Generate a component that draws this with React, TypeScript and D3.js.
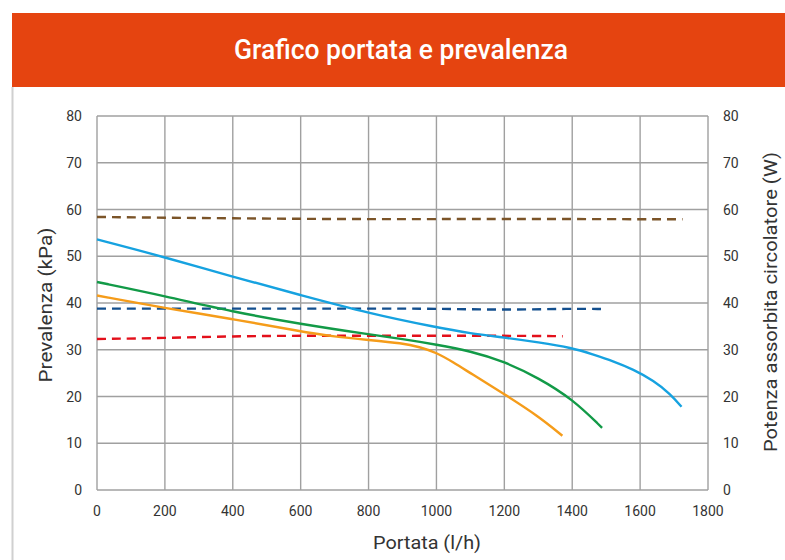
import React from "react";
import * as d3 from "d3";

const W = 785;
const H = 560;

const xTicks = [0, 200, 400, 600, 800, 1000, 1200, 1400, 1600, 1800];
const yTicks = [0, 10, 20, 30, 40, 50, 60, 70, 80];

const title = "Grafico portata e prevalenza";
const xTitle = "Portata (l/h)";
const yTitleLeft = "Prevalenza (kPa)";
const yTitleRight = "Potenza assorbita circolatore (W)";

// Prevalenza curves (solid)
const blueFlow = [0, 200, 400, 600, 800, 1000, 1100, 1200, 1300, 1400, 1460, 1520, 1580, 1640, 1690, 1722];
const blueHead = [53.6, 49.8, 45.6, 41.7, 37.8, 34.8, 33.5, 32.6, 31.6, 30.4, 29.0, 27.6, 25.8, 23.4, 20.5, 17.8];

const greenFlow = [0, 200, 400, 600, 800, 900, 1000, 1100, 1200, 1300, 1400, 1488];
const greenHead = [44.5, 41.5, 38.1, 35.5, 33.3, 32.3, 31.1, 29.7, 27.5, 24.0, 19.5, 13.3];

const orangeFlow = [0, 200, 400, 600, 700, 800, 900, 950, 1000, 1050, 1100, 1200, 1300, 1371];
const orangeHead = [41.6, 38.9, 36.6, 33.9, 32.8, 32.1, 31.4, 30.6, 29.4, 27.3, 25.0, 20.5, 15.8, 11.6];

// Potenza curves (dashed)
const brownFlow = [0, 400, 800, 1200, 1725];
const brownPower = [58.4, 58.1, 57.9, 58.0, 57.9];

const navyFlow = [0, 400, 800, 1000, 1200, 1400, 1490];
const navyPower = [38.8, 38.8, 38.8, 38.8, 38.5, 38.8, 38.7];

const redFlow = [0, 200, 400, 600, 800, 1000, 1200, 1372];
const redPower = [32.3, 32.5, 32.9, 33.0, 33.0, 33.0, 33.0, 32.9];

const plot = { left: 97, right: 708, top: 116, bottom: 490 };

const x = d3.scaleLinear().domain([0, 1800]).range([plot.left, plot.right]);
const yL = d3.scaleLinear().domain([0, 80]).range([plot.bottom, plot.top]);
const yR = d3.scaleLinear().domain([0, 80]).range([plot.bottom, plot.top]);

type Series = { flow: number[]; vals: number[]; color: string; dashed: boolean; axis: "L" | "R" };

const series: Series[] = [
  { flow: brownFlow, vals: brownPower, color: "#7b5428", dashed: true, axis: "R" },
  { flow: navyFlow, vals: navyPower, color: "#134f8e", dashed: true, axis: "R" },
  { flow: redFlow, vals: redPower, color: "#e3101b", dashed: true, axis: "R" },
  { flow: blueFlow, vals: blueHead, color: "#16a2e0", dashed: false, axis: "L" },
  { flow: greenFlow, vals: greenHead, color: "#129a47", dashed: false, axis: "L" },
  { flow: orangeFlow, vals: orangeHead, color: "#f59c1a", dashed: false, axis: "L" },
];

const FONT = "Roboto, 'DejaVu Sans', sans-serif";

export default function App() {
  const mkLine = (s: Series) => {
    const ys = s.axis === "L" ? yL : yR;
    const pts = s.flow.map((f, i) => [f, s.vals[i]] as [number, number]);
    return d3
      .line<[number, number]>()
      .x((d) => x(d[0]))
      .y((d) => ys(d[1]))
      .curve(d3.curveBasis)(pts) as string;
  };

  return (
    <svg
      width={W}
      height={H}
      style={{ position: "absolute", left: 0, top: 0, background: "#fff" }}
      fontFamily={FONT}
    >
      <rect x={0} y={0} width={W} height={H} fill="#fff" />
      {/* frame */}
      <line x1={12.5} x2={12.5} y1={87} y2={H} stroke="#d0d0d0" strokeWidth={2} />
      {/* banner */}
      <rect x={12} y={13} width={W - 12} height={74} fill="#e54410" />
      <text
        x={401}
        y={59}
        textAnchor="middle"
        fill="#fff"
        fontSize={27}
        fontWeight={500}
        textLength={334}
        lengthAdjust="spacingAndGlyphs"
      >
        {title}
      </text>

      {/* grid */}
      {xTicks.map((t) => (
        <line key={"gx" + t} x1={x(t)} x2={x(t)} y1={plot.top} y2={plot.bottom} stroke="#a0a0a0" strokeWidth={1.4} />
      ))}
      {yTicks.map((t) => (
        <line key={"gy" + t} x1={plot.left} x2={plot.right} y1={yL(t)} y2={yL(t)} stroke="#a0a0a0" strokeWidth={1.4} />
      ))}

      {/* series */}
      {series.map((s, i) => (
        <path
          key={i}
          d={mkLine(s)}
          fill="none"
          stroke={s.color}
          strokeWidth={2.4}
          strokeDasharray={s.dashed ? "9,6" : undefined}
        />
      ))}

      {/* tick labels */}
      {yTicks.map((t) => (
        <text key={"yl" + t} x={82} y={yL(t) + 5} textAnchor="end" fontSize={14} fill="#333">
          {t}
        </text>
      ))}
      {yTicks.map((t) => (
        <text key={"yr" + t} x={723} y={yR(t) + 5} textAnchor="start" fontSize={14} fill="#333">
          {t}
        </text>
      ))}
      {xTicks.map((t) => (
        <text key={"xl" + t} x={x(t)} y={516} textAnchor="middle" fontSize={14} fill="#333">
          {t}
        </text>
      ))}

      {/* axis titles */}
      <text x={427} y={549} textAnchor="middle" fontSize={19} fill="#333" textLength={108} lengthAdjust="spacingAndGlyphs">
        {xTitle}
      </text>
      <text
        transform={`translate(52, 305) rotate(-90)`}
        textAnchor="middle"
        fontSize={19}
        fill="#333"
        textLength={155}
        lengthAdjust="spacingAndGlyphs"
      >
        {yTitleLeft}
      </text>
      <text
        transform={`translate(777, 302) rotate(-90)`}
        textAnchor="middle"
        fontSize={18}
        fill="#333"
        textLength={300}
        lengthAdjust="spacingAndGlyphs"
      >
        {yTitleRight}
      </text>
    </svg>
  );
}
